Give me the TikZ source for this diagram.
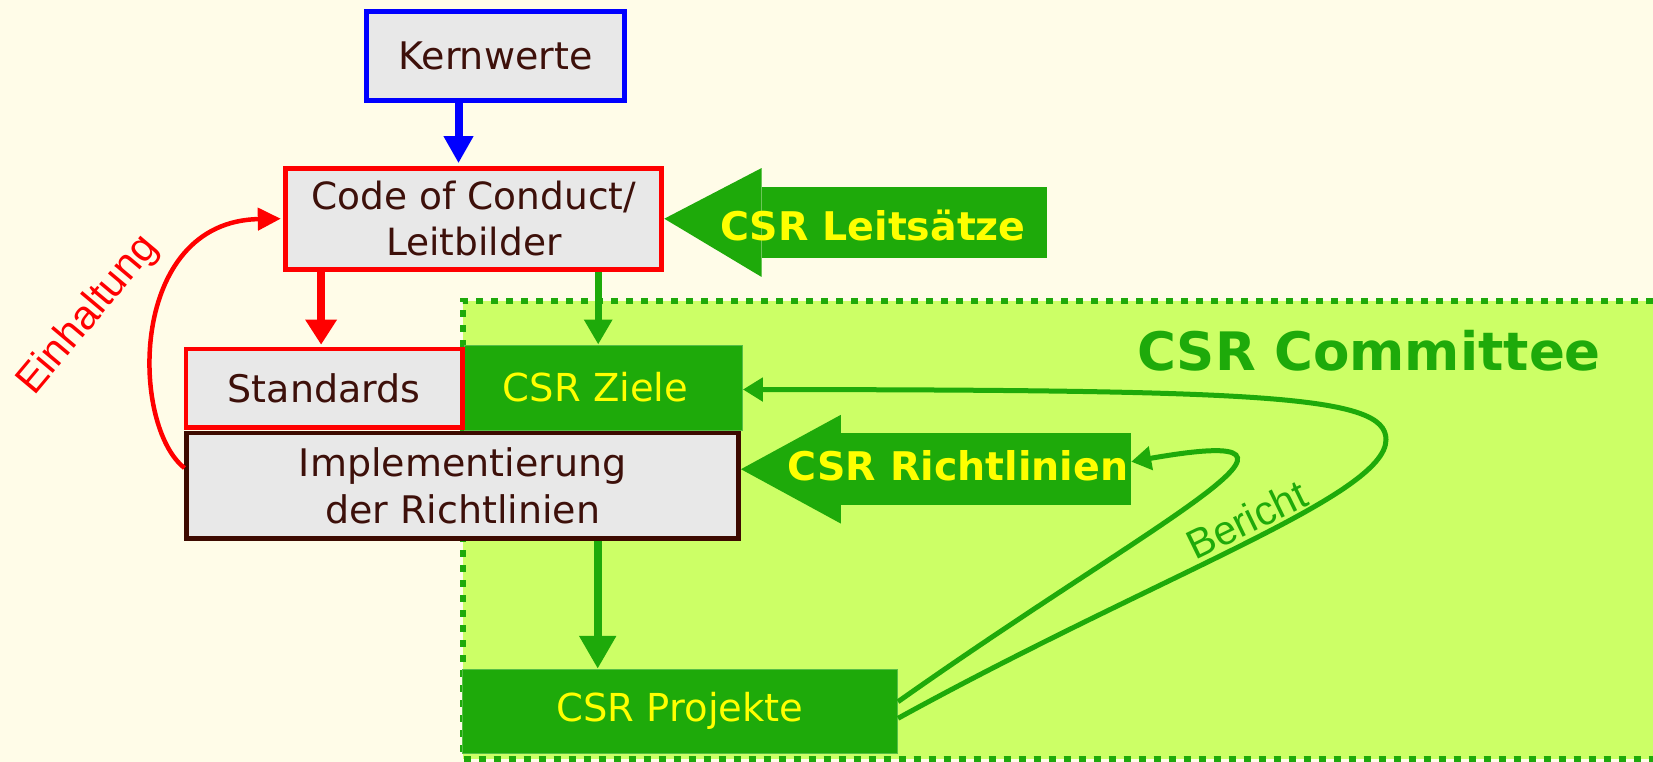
\documentclass[tikz,border=0pt]{standalone}
\usepackage{fontspec}
\setmainfont{DejaVu Sans}
\newfontfamily\arialfont{Liberation Sans}
\usetikzlibrary{arrows.meta}
\definecolor{bg}{RGB}{255,252,232}
\definecolor{csrgreen}{RGB}{30,170,10}
\definecolor{commfill}{RGB}{204,255,102}
\definecolor{boxgray}{RGB}{232,232,232}
\definecolor{txtbrown}{RGB}{61,16,10}
\definecolor{darkbrown}{RGB}{61,10,0}
\definecolor{csryellow}{RGB}{255,255,0}
\tikzset{
  graybox/.style={rectangle, fill=boxgray, text=txtbrown, inner sep=0pt, align=center,
    font=\fontsize{38}{46.6}\selectfont},
  greenbox/.style={rectangle, fill=csrgreen, draw=csrgreen!75!white, line width=1pt,
    text=csryellow, inner sep=0pt, font=\fontsize{38.5}{44}\selectfont},
  shaftbox/.style={rectangle, fill=csrgreen, inner sep=0pt},
  headfill/.style={fill=csrgreen},
  boldlabel/.style={text=csryellow, inner sep=0pt, anchor=base, font=\fontsize{39.5}{42}\bfseries\selectfont},
  bluearrow/.style={draw=blue, line width=8pt, -{Triangle[length=27pt,width=28pt]}},
  redarrow/.style={draw=red, line width=8pt, -{Triangle[length=25pt,width=30pt]}},
  greenarrow/.style={draw=csrgreen, line width=7pt, -{Triangle[length=25pt,width=27pt]}},
  biggreenarrow/.style={draw=csrgreen, line width=8.3pt, -{Triangle[length=33pt,width=35pt]}},
  loopline/.style={draw=csrgreen, line width=5pt, -{Triangle[length=20pt,width=23pt]}},
  redloop/.style={draw=red, line width=4.5pt, -{Triangle[length=23pt,width=22pt]}},
}
\begin{document}
\begin{tikzpicture}[x=1pt,y=-1pt]
\useasboundingbox (0,0) rectangle (1653,762);
\fill[bg] (0,0) rectangle (1653,762);

% CSR Committee area
\fill[commfill] (462.5,300.7) rectangle (1653,759);
\draw[csrgreen, line width=6pt, dash pattern=on 7pt off 8pt] (1653,300.7) -- (462.5,300.7) -- (462.5,759) -- (1653,759);
\node[text=csrgreen, anchor=base, inner sep=0pt, font=\fontsize{53}{56}\bfseries\selectfont] (comm) at (1369,370) {CSR Committee};

% boxes
\node[graybox, draw=blue, line width=5pt, minimum width=258pt, minimum height=89pt] (kern) at (495.5,56) {Kernwerte};
\node[graybox, draw=red, line width=5pt, minimum width=376pt, minimum height=101pt,
  font=\fontsize{37.5}{46}\selectfont] (code) at (473.8,218.7) {Code of Conduct/\\Leitbilder};
\node[greenbox, minimum width=277.8pt, minimum height=85pt] (ziele) at (603.5,387.5) {CSR Ziele\hspace*{16pt}};
\node[graybox, draw=red, line width=4.5pt, minimum width=276.3pt, minimum height=78.7pt] (std) at (324.1,388.3) {Standards};
\node[graybox, draw=darkbrown, line width=4.5pt, minimum width=552pt, minimum height=105.5pt] (impl) at (462.7,485.7) {Implementierung\\der Richtlinien};
\node[greenbox, minimum width=435pt, minimum height=84pt] (proj) at (680,711.3) {CSR Projekte};

% CSR Leitsaetze block arrow
\node[shaftbox, minimum width=285pt, minimum height=71.6pt] (ls) at (904.2,222.5) {};
\fill[headfill] (ls.north west) -- ([yshift=18.4pt]ls.north west) -- (code.east)
  -- ([yshift=-18.4pt]ls.south west) -- (ls.south west) -- cycle;
\node[boldlabel] (lstext) at (873,240.7) {CSR Leitsätze};

% CSR Richtlinien block arrow
\node[shaftbox, minimum width=290pt, minimum height=71.7pt] (rl) at (986,469.2) {};
\fill[headfill] (rl.north west) -- ([yshift=18.3pt]rl.north west) -- (impl.east |- rl.west)
  -- ([yshift=-18.3pt]rl.south west) -- (rl.south west) -- cycle;
\node[boldlabel] (rltext) at (958,480) {CSR Richtlinien};

% straight arrows
\draw[bluearrow, shorten >=2.5pt] ([xshift=-37pt]kern.south) -- ([xshift=-37pt]kern.south |- code.north);
\draw[redarrow, shorten >=2pt] ([xshift=-3pt]std.north |- code.south) -- ([xshift=-3pt]std.north);
\draw[greenarrow] ([xshift=-5.3pt]ziele.north |- code.south) -- ([xshift=-5.3pt]ziele.north);
\draw[biggreenarrow] ([xshift=-5.8pt]ziele.south |- impl.south) -- ([xshift=-5.8pt]ziele.south |- proj.north);

% feedback curves
\draw[loopline] ([yshift=9.6pt]proj.east) .. controls (1160,516.6) and (1360,421.7) .. ([yshift=7.5pt]rl.east);
\draw[loopline] ([yshift=-7pt]proj.east) .. controls (1159.6,574.5) and (1386,495.5) .. (1386,439.6)
  .. controls (1386,395.3) and (1265,390) .. ([yshift=-2pt]ziele.east);
\draw[redloop] ([yshift=17.7pt]impl.west) .. controls (130,425) and (128,221.4) .. ([xshift=-2.5pt]code.west);

% labels
\node[rotate=50, text=red, inner sep=0pt, font=\arialfont\fontsize{41}{41}\selectfont] (einh) at (88.5,315) {Einhaltung};
\node[rotate=26, text=csrgreen, inner sep=0pt, font=\arialfont\fontsize{41}{41}\selectfont] (bericht) at (1246.5,519) {Bericht};
\end{tikzpicture}
\end{document}
